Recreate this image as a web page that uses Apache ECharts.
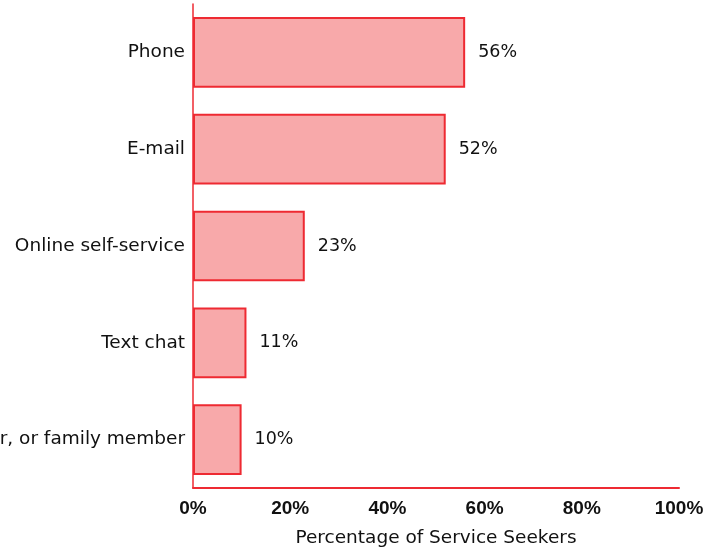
<!DOCTYPE html>
<html><head><meta charset="utf-8">
<script src="https://cdn.jsdelivr.net/npm/echarts@6/dist/echarts.min.js"></script>
<style>html,body{margin:0;padding:0;background:#fff}#c{width:715px;height:550px}</style>
</head><body><div id="c"></div>
<script>
const categories = ["Phone", "E-mail", "Online self-service", "Text chat", "Friend, coworker, or family member"];
const values = [56, 52, 23, 11, 10];
const xTicks = [0, 20, 40, 60, 80, 100];
const axisName = "Percentage of Service Seekers";

const chart = echarts.init(document.getElementById('c'));
const font = "'DejaVu Sans', sans-serif";
const boldFont = "'Liberation Sans', Arial, sans-serif";
chart.setOption({
  animation: false,
  grid: {left: 193, right: 36, top: 4, bottom: 62, containLabel: false, outerBoundsMode: 'none'},
  xAxis: {
    type: 'value', min: xTicks[0], max: xTicks[xTicks.length - 1], interval: 20,
    name: axisName, nameLocation: 'middle', nameGap: 41,
    nameTextStyle: {fontFamily: font, fontSize: 18.5, color: '#111'},
    axisLine: {show: true, lineStyle: {color: '#ee2a32', width: 2}},
    axisTick: {show: false},
    splitLine: {show: false},
    axisLabel: {formatter: '{value}%', fontFamily: boldFont, fontSize: 19, fontWeight: 'bold', color: '#111', margin: 11}
  },
  yAxis: {
    type: 'category', data: categories, inverse: true,
    axisLine: {show: true, lineStyle: {color: '#ee2a32', width: 1.5}},
    axisTick: {show: false},
    axisLabel: {fontFamily: font, fontSize: 18.5, color: '#111', margin: 8, padding: [4, 0, 0, 0]}
  },
  series: [{
    type: 'bar', data: values, barWidth: '73%',
    itemStyle: {color: '#f8a9aa', borderColor: '#ee2a32', borderWidth: 2},
    label: {show: true, position: 'right', distance: 13, formatter: '{c}%', fontFamily: font, fontSize: 17.5, color: '#111', padding: [4, 0, 0, 0]}
  }]
});
</script></body></html>
